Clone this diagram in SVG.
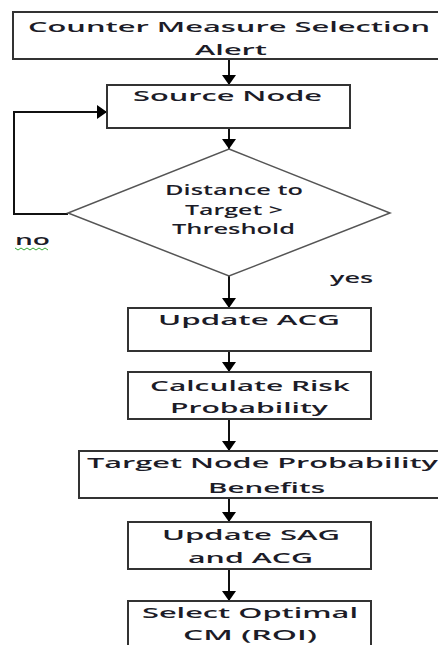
<svg xmlns="http://www.w3.org/2000/svg" width="438" height="645" viewBox="0 0 438 645">
<style>
.box{fill:#fff;stroke:#333;stroke-width:2}
.dia{fill:#fff;stroke:#555;stroke-width:1.5}
.t{font-family:"Open Sans","DejaVu Sans",sans-serif;font-weight:600;font-size:15px;fill:#1c1c28}
.c{fill:none;stroke:#111;stroke-width:2}
</style>
<defs>
<marker id="ah" viewBox="0 0 10 14" refX="10" refY="7" markerWidth="10" markerHeight="14" markerUnits="userSpaceOnUse" orient="auto">
<path d="M0,0 L10,7 L0,14 z" fill="#000"/>
</marker>
</defs>
<rect width="438" height="645" fill="#fff"/>
<g id="connectors">
<path class="c" d="M229,59 V85" marker-end="url(#ah)"/>
<path class="c" d="M229,128 V149" marker-end="url(#ah)"/>
<path class="c" d="M229,276 V308" marker-end="url(#ah)"/>
<path class="c" d="M229,351 V372" marker-end="url(#ah)"/>
<path class="c" d="M229,419 V451" marker-end="url(#ah)"/>
<path class="c" d="M229,498 V522" marker-end="url(#ah)"/>
<path class="c" d="M229,569 V601" marker-end="url(#ah)"/>
<path class="c" d="M68,214 H14 V112 H107" marker-end="url(#ah)"/>
<text class="t" x="15" y="245" textLength="35" lengthAdjust="spacingAndGlyphs">no</text>
<path d="M15,248 l3,2 l3,-2 l3,2 l3,-2 l3,2 l3,-2 l3,2 l3,-2 l3,2 l3,-2 l3,2" fill="none" stroke="#3a3" stroke-width="1"/>
<text class="t" x="330" y="283" textLength="43" lengthAdjust="spacingAndGlyphs">yes</text>
</g>
<g id="n1">
<rect class="box" x="13" y="12" width="440" height="47"/>
<text class="t" x="28" y="32" textLength="402" lengthAdjust="spacingAndGlyphs">Counter Measure Selection</text>
<text class="t" x="195" y="55" textLength="72" lengthAdjust="spacingAndGlyphs">Alert</text>
</g>
<g id="n2">
<rect class="box" x="107" y="85" width="243" height="43"/>
<text class="t" x="133" y="101" textLength="189" lengthAdjust="spacingAndGlyphs">Source Node</text>
</g>
<g id="n3">
<polygon class="dia" points="229,149 390,213 229,276 68,213"/>
<text class="t" x="165" y="195" textLength="138" lengthAdjust="spacingAndGlyphs">Distance to</text>
<text class="t" x="185" y="215" textLength="98" lengthAdjust="spacingAndGlyphs">Target &gt;</text>
<text class="t" x="172" y="234" textLength="123" lengthAdjust="spacingAndGlyphs">Threshold</text>
</g>
<g id="n4">
<rect class="box" x="128" y="308" width="243" height="43"/>
<text class="t" x="158" y="325" textLength="182" lengthAdjust="spacingAndGlyphs">Update ACG</text>
</g>
<g id="n5">
<rect class="box" x="128" y="372" width="243" height="47"/>
<text class="t" x="150" y="391" textLength="200" lengthAdjust="spacingAndGlyphs">Calculate Risk</text>
<text class="t" x="170" y="413" textLength="158" lengthAdjust="spacingAndGlyphs">Probability</text>
</g>
<g id="n6">
<rect class="box" x="79" y="451" width="370" height="47"/>
<text class="t" x="87" y="468" textLength="351" lengthAdjust="spacingAndGlyphs">Target Node Probability</text>
<text class="t" x="208" y="493" textLength="117" lengthAdjust="spacingAndGlyphs">Benefits</text>
</g>
<g id="n7">
<rect class="box" x="128" y="522" width="243" height="47"/>
<text class="t" x="162" y="540" textLength="178" lengthAdjust="spacingAndGlyphs">Update SAG</text>
<text class="t" x="188" y="563" textLength="125" lengthAdjust="spacingAndGlyphs">and ACG</text>
</g>
<g id="n8">
<rect class="box" x="128" y="601" width="243" height="60"/>
<text class="t" x="142" y="618" textLength="216" lengthAdjust="spacingAndGlyphs">Select Optimal</text>
<text class="t" x="183" y="640" textLength="134" lengthAdjust="spacingAndGlyphs">CM (ROI)</text>
</g>
</svg>
